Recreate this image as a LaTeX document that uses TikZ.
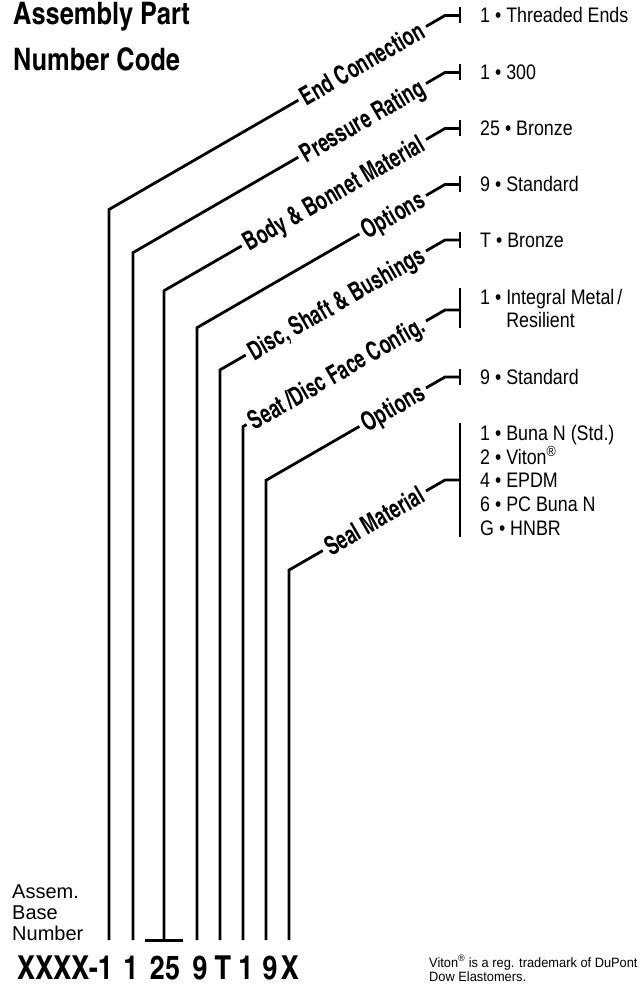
\documentclass[tikz,border=0pt]{standalone}
\usepackage{fontspec}
\setmainfont{Liberation Sans}
\newfontfamily\cnfont{texgyreheroscn-bold.otf}
\usetikzlibrary{calc}
\newcommand\diagfont{\cnfont\fontsize{26}{26}\selectfont}
\newcommand\rfont{\fontsize{21}{24}\selectfont}
\newcommand\cnd[1]{\scalebox{0.85}[1]{#1}}
\newcommand\codeline[4]{%
  \coordinate (b#1) at (#2,940);
  \coordinate (c#1) at (#2,{#3+(445-#2)*tan(30)});
  \coordinate (e#1) at (445,#3);
  \coordinate (h#1) at (460,#3);
  \node[diaglbl] (l#1) at ($(e#1)!22pt!(c#1)$) {\cnd{#4}};
  \draw[wire] (b#1) -- (c#1) -- (l#1.west);
  \draw[wire] (l#1.east) -- (e#1) -- (h#1);
}
\begin{document}
\begin{tikzpicture}[x=1pt,y=-1pt,
  wire/.style={line width=2.8pt},
  diaglbl/.style={font=\diagfont, rotate=30, anchor=east, inner xsep=4pt, inner ysep=0pt, text height=18.7pt, text depth=0pt},
  rtxt/.style={font=\rfont, anchor=base west, inner sep=0pt},
  ltxt/.style={font=\fontsize{20}{22}\selectfont, anchor=base west, inner sep=0pt},
  codetxt/.style={font=\cnfont\fontsize{33}{33}\selectfont, anchor=base, inner sep=0pt},
  titletxt/.style={font=\cnfont\fontsize{31}{31}\selectfont, anchor=base west, inner sep=0pt},
  foot/.style={font=\fontsize{13.5}{13.5}\selectfont, anchor=base west, inner sep=0pt}]
\useasboundingbox (0,0) rectangle (642,984);

% title
\node[titletxt] (title1) at (13,25) {Assembly Part};
\node[titletxt] (title2) at (13,70.5) {Number Code};

% code lines
\codeline{1}{109}{15.5}{End Connection}
\codeline{2}{133}{72.5}{Pressure Rating}
\codeline{3}{164}{128.5}{Body \& Bonnet Material}
\codeline{4}{197}{184.5}{Options}
\codeline{5}{220}{240}{Disc, Shaft \& Bushings}
\codeline{6}{243}{310}{Seat\,/Disc Face Config.}
\codeline{7}{266}{377}{Options}
\codeline{8}{289}{480}{Seal Material}

% bars at the right
\coordinate (t1) at (460,7.5);   \coordinate (u1) at (460,23.5);
\coordinate (t2) at (460,64.5);  \coordinate (u2) at (460,80.5);
\coordinate (t3) at (460,120.5); \coordinate (u3) at (460,136.5);
\coordinate (t4) at (460,176.5); \coordinate (u4) at (460,192.5);
\coordinate (t5) at (460,232);   \coordinate (u5) at (460,248);
\coordinate (t6) at (460,288);   \coordinate (u6) at (460,328);
\coordinate (t7) at (460,369);   \coordinate (u7) at (460,385);
\coordinate (t8) at (460,423);   \coordinate (u8) at (460,537);
\foreach \i in {1,...,8} {\draw[wire] (t\i) -- (u\i);}

% bar under 25
\coordinate (bl3) at (145,940.5);
\coordinate (br3) at (183,940.5);
\draw[wire] (bl3) -- (br3);

% right texts
\node[rtxt] (r1) at (480,23) {\cnd{1 • Threaded Ends}};
\node[rtxt] (r2) at (480,80) {\cnd{1 • 300}};
\node[rtxt] (r3) at (480,136) {\cnd{25 • Bronze}};
\node[rtxt] (r4) at (480,192) {\cnd{9 • Standard}};
\node[rtxt] (r5) at (480,247.5) {\cnd{T • Bronze}};
\node[rtxt] (r6a) at (480,304.5) {\cnd{1 • Integral Metal\,/}};
\node[rtxt] (r6b) at (480,327.5) {\cnd{\phantom{1 • }Resilient}};
\node[rtxt] (r7) at (480,384.5) {\cnd{9 • Standard}};
\node[rtxt] (r8a) at (480,440.5) {\cnd{1 • Buna N (Std.)}};
\node[rtxt] (r8b) at (480,464) {\cnd{2 • Viton\textsuperscript{®}}};
\node[rtxt] (r8c) at (480,487.5) {\cnd{4 • EPDM}};
\node[rtxt] (r8d) at (480,511.5) {\cnd{6 • PC Buna N}};
\node[rtxt] (r8e) at (480,535) {\cnd{G • HNBR}};

% left texts
\node[ltxt] (la) at (12,898) {Assem.};
\node[ltxt] (lb) at (12,919) {Base};
\node[ltxt] (lc) at (12,940) {Number};

% bottom code
\node[codetxt, anchor=base east] (k1) at (113,979) {XXXX-1};
\node[codetxt] (k2) at (131,979) {1};
\node[codetxt] (k3) at (165,979) {25};
\node[codetxt] (k4) at (200,979) {9};
\node[codetxt] (k5) at (223,979) {T};
\node[codetxt] (k6) at (246,979) {1};
\node[codetxt] (k7) at (270,979) {9};
\node[codetxt] (k8) at (290,979) {X};

% footnote
\node[foot] (f1) at (429,967) {\scalebox{0.95}[1]{Viton\textsuperscript{®} is a reg. trademark of DuPont}};
\node[foot] (f2) at (429,981) {\scalebox{0.95}[1]{Dow Elastomers.}};
\end{tikzpicture}
\end{document}
